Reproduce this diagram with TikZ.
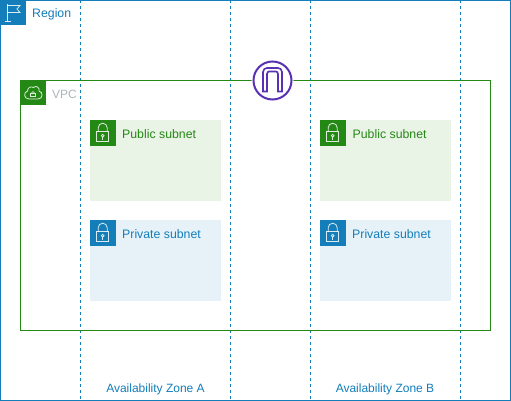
\documentclass[tikz,border=0pt]{standalone}
\usepackage{fontspec}
\setmainfont{Liberation Sans}
\definecolor{awsblue}{HTML}{147EBA}
\definecolor{awsgreen}{HTML}{248814}
\definecolor{awspurple}{HTML}{5A30B5}
\definecolor{pubfill}{HTML}{E9F3E6}
\definecolor{privfill}{HTML}{E6F2F8}
\definecolor{vpcgrey}{HTML}{AAB7B8}
\tikzset{
  azline/.style={draw=awsblue,line width=1.2pt,dash pattern=on 3pt off 3pt},
  lbl/.style={font=\fontsize{12.3}{14}\selectfont,anchor=west,inner sep=0pt},
  azlbl/.style={font=\fontsize{12}{14}\selectfont,text=awsblue,inner sep=0pt},
  icon/.style={line width=.8pt,draw=white,fill=none,opacity=.85},
}
% #1 = left x, #2 = top y, #3 = fill
\newcommand{\lockicon}[3]{%
  \fill[#3] (#1,#2) rectangle ++(25.3,25.3);
  \draw[icon] (#1+6.5,#2+11.5) rectangle (#1+18.5,#2+21.5);
  \draw[icon] (#1+8,#2+11.5) -- (#1+8,#2+7.5) arc[start angle=180,end angle=360,radius=4.5] -- (#1+17,#2+11.5);
  \draw[icon] (#1+12.5,#2+15.5) circle[radius=1.4];
  \draw[icon] (#1+12.5,#2+17) -- (#1+12.5,#2+19.5);
}
\begin{document}
\begin{tikzpicture}[x=1pt,y=-1pt]
\useasboundingbox (0,0) rectangle (511,401);
\fill[white] (0,0) rectangle (511,401);
% Region
\draw[awsblue,line width=1.2pt] (0.5,0.5) rectangle (510.5,400.5);
\fill[awsblue] (0,0) rectangle (25.5,25.5);
\draw[icon] (7.5,4) -- (7.5,21) (5,21) -- (10.5,21);
\draw[icon] (7.5,5.5) -- (20,5.5) -- (17,9) -- (20,12.5) -- (7.5,12.5);
\node[lbl,text=awsblue] (regionlabel) at (32,14) {Region};
% Availability zones
\coordinate (a1t) at (80.5,0); \coordinate (a1b) at (80.5,400);
\coordinate (a2t) at (230.5,0); \coordinate (a2b) at (230.5,400);
\coordinate (b1t) at (310.5,0); \coordinate (b1b) at (310.5,400);
\coordinate (b2t) at (460.5,0); \coordinate (b2b) at (460.5,400);
\draw[azline] (a1t) -- (a1b);
\draw[azline] (a2t) -- (a2b);
\draw[azline] (b1t) -- (b1b);
\draw[azline] (b2t) -- (b2b);
\node[azlbl] (azalabel) at (155.5,389) {Availability Zone A};
\node[azlbl] (azblabel) at (385,389) {Availability Zone B};
% VPC
\draw[awsgreen,line width=1.2pt] (20.5,80.5) rectangle (490.5,330.5);
\fill[awsgreen] (20,80) rectangle (45.5,105.5);
\draw[icon,line join=round] (29,99) .. controls (24,99) and (23,92.5) .. (27.5,91)
  .. controls (27.5,87.5) and (31,86) .. (33.5,87.5)
  .. controls (36,85) and (40,87.5) .. (39,91)
  .. controls (43.5,92) and (43,99) .. (38,99) -- cycle;
\draw[icon,line width=.6pt] (30.5,93) rectangle (35.5,96.5);
\draw[icon,line width=.6pt] (31.5,93) arc[start angle=180,end angle=360,radius=1.5];
\node[lbl,font=\fontsize{12}{14}\selectfont,text=vpcgrey] (vpclabel) at (52,94) {VPC};
% Subnets
\fill[pubfill] (90.2,120.2) rectangle (220.5,200.5);
\fill[pubfill] (320.2,120.2) rectangle (450.5,200.5);
\fill[privfill] (90.2,220.2) rectangle (220.5,300.5);
\fill[privfill] (320.2,220.2) rectangle (450.5,300.5);
\lockicon{90.2}{120.2}{awsgreen}
\lockicon{320.2}{120.2}{awsgreen}
\lockicon{90.2}{220.2}{awsblue}
\lockicon{320.2}{220.2}{awsblue}
\node[lbl,text=awsgreen] (puba) at (122,134) {Public subnet};
\node[lbl,text=awsgreen] (pubb) at (352.5,134) {Public subnet};
\node[lbl,text=awsblue] (priva) at (122,234) {Private subnet};
\node[lbl,text=awsblue] (privb) at (352,234) {Private subnet};
% Internet gateway
\fill[white] (272.5,80.5) circle[radius=21];
\draw[awspurple,line width=2pt] (272.5,80.5) circle[radius=19];
\draw[awspurple,line width=1.6pt,line join=miter] (263,91.5) -- (263,72) .. controls (263,69.5) and (265,68) .. (267,68) -- (278,68) .. controls (280,68) and (282,69.5) .. (282,72) -- (282,91.5) -- (278,91.5) -- (278,74) .. controls (278,72.5) and (277,71.5) .. (276,71.5) -- (269,71.5) .. controls (268,71.5) and (267,72.5) .. (267,74) -- (267,91.5) -- cycle;
\end{tikzpicture}
\end{document}
